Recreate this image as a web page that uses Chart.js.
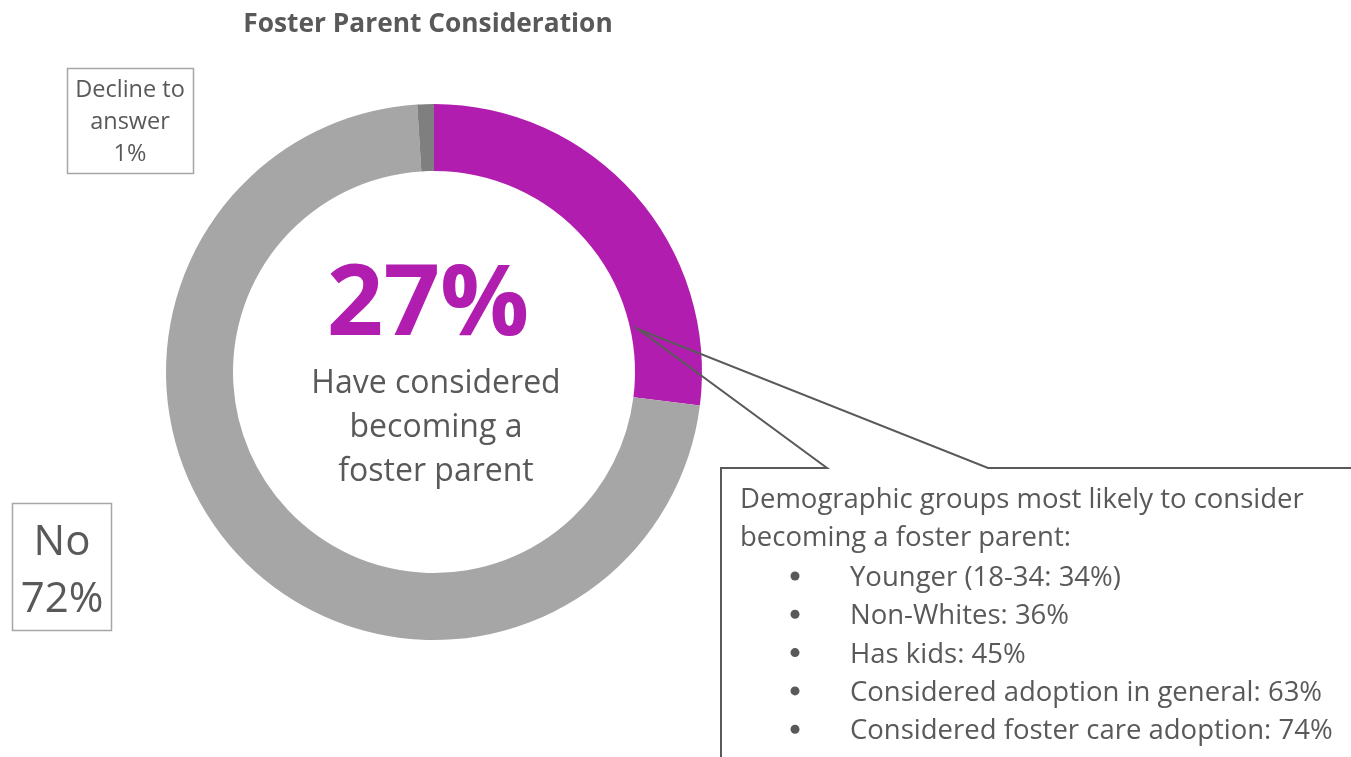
<!DOCTYPE html>
<html>
<head>
<meta charset="utf-8">
<script src="https://cdn.jsdelivr.net/npm/chart.js@4"></script>
<style>
  html, body { margin: 0; padding: 0; background: #fff; }
  #wrap { width: 1351px; height: 757px; position: relative; }
</style>
</head>
<body>
<div id="wrap"><canvas id="chart"></canvas></div>
<script>
// data
const labels = ['Yes', 'No', 'Decline to answer'];
const values = [27, 72, 1];
const colors = ['#B11EAF', '#A6A6A6', '#7F7F7F'];
const titleText = 'Foster Parent Consideration';
const centerLines = ['Have considered', 'becoming a', 'foster parent'];
const calloutHead = ['Demographic groups most likely to consider', 'becoming a foster parent:'];
const calloutItems = ['Younger (18-34: 34%)', 'Non-Whites: 36%', 'Has kids: 45%',
    'Considered adoption in general: 63%', 'Considered foster care adoption: 74%'];

const FONT = '"Open Sans", sans-serif';
const GREY = '#595959';

const overlay = {
    id: 'overlay',
    afterDraw(chart) {
        const ctx = chart.ctx;
        const arc = chart.getDatasetMeta(0).data[0];
        const cx = arc.x, cy = arc.y;
        ctx.save();
        ctx.fillStyle = GREY;
        ctx.textAlign = 'center';
        ctx.textBaseline = 'alphabetic';

        // title
        ctx.font = 'bold 26.3px ' + FONT;
        ctx.fillText(titleText, 428, 32);

        // center text
        ctx.fillStyle = colors[0];
        ctx.font = 'bold 99px ' + FONT;
        ctx.fillText(values[0] + '%', cx - 6, cy - 37);
        ctx.fillStyle = GREY;
        ctx.font = '32px ' + FONT;
        centerLines.forEach((t, i) => ctx.fillText(t, cx + 2, cy + 21 + i * 44));

        // Decline label box
        ctx.strokeStyle = '#A6A6A6';
        ctx.lineWidth = 1.5;
        ctx.strokeRect(67.5, 68.5, 126, 105);
        ctx.font = '23.5px ' + FONT;
        ['Decline to', 'answer', values[2] + '%'].forEach((t, i) => ctx.fillText(t, 130, 97 + i * 32));

        // No label box
        ctx.strokeRect(12.5, 503.5, 99, 127);
        ctx.font = '42px ' + FONT;
        ctx.fillText(labels[1], 62, 555);
        ctx.fillText(values[1] + '%', 62, 612);

        // callout
        ctx.strokeStyle = GREY;
        ctx.lineWidth = 2;
        ctx.beginPath();
        ctx.moveTo(721, 757);
        ctx.lineTo(721, 468);
        ctx.lineTo(827, 468);
        ctx.lineTo(638, 329);
        ctx.lineTo(988, 468);
        ctx.lineTo(1360, 468);
        ctx.stroke();

        ctx.textAlign = 'left';
        ctx.font = '27.5px ' + FONT;
        calloutHead.forEach((t, i) => ctx.fillText(t, 740, 508 + i * 38));
        calloutItems.forEach((t, i) => {
            const y = 586 + i * 38.3;
            ctx.beginPath();
            ctx.arc(795, y - 10, 4.5, 0, Math.PI * 2);
            ctx.fill();
            ctx.fillText(t, 850, y);
        });
        ctx.restore();
    }
};

new Chart(document.getElementById('chart'), {
    type: 'doughnut',
    data: {
        labels: labels,
        datasets: [{
            data: values,
            backgroundColor: colors,
            borderWidth: 0,
            hoverOffset: 0
        }]
    },
    options: {
        responsive: true,
        maintainAspectRatio: false,
        animation: false,
        cutout: '75%',
        layout: { padding: { left: 166, right: 649, top: 104, bottom: 117 } },
        plugins: {
            legend: { display: false },
            tooltip: { enabled: false },
            title: { display: false }
        }
    },
    plugins: [overlay]
});
</script>
</body>
</html>
